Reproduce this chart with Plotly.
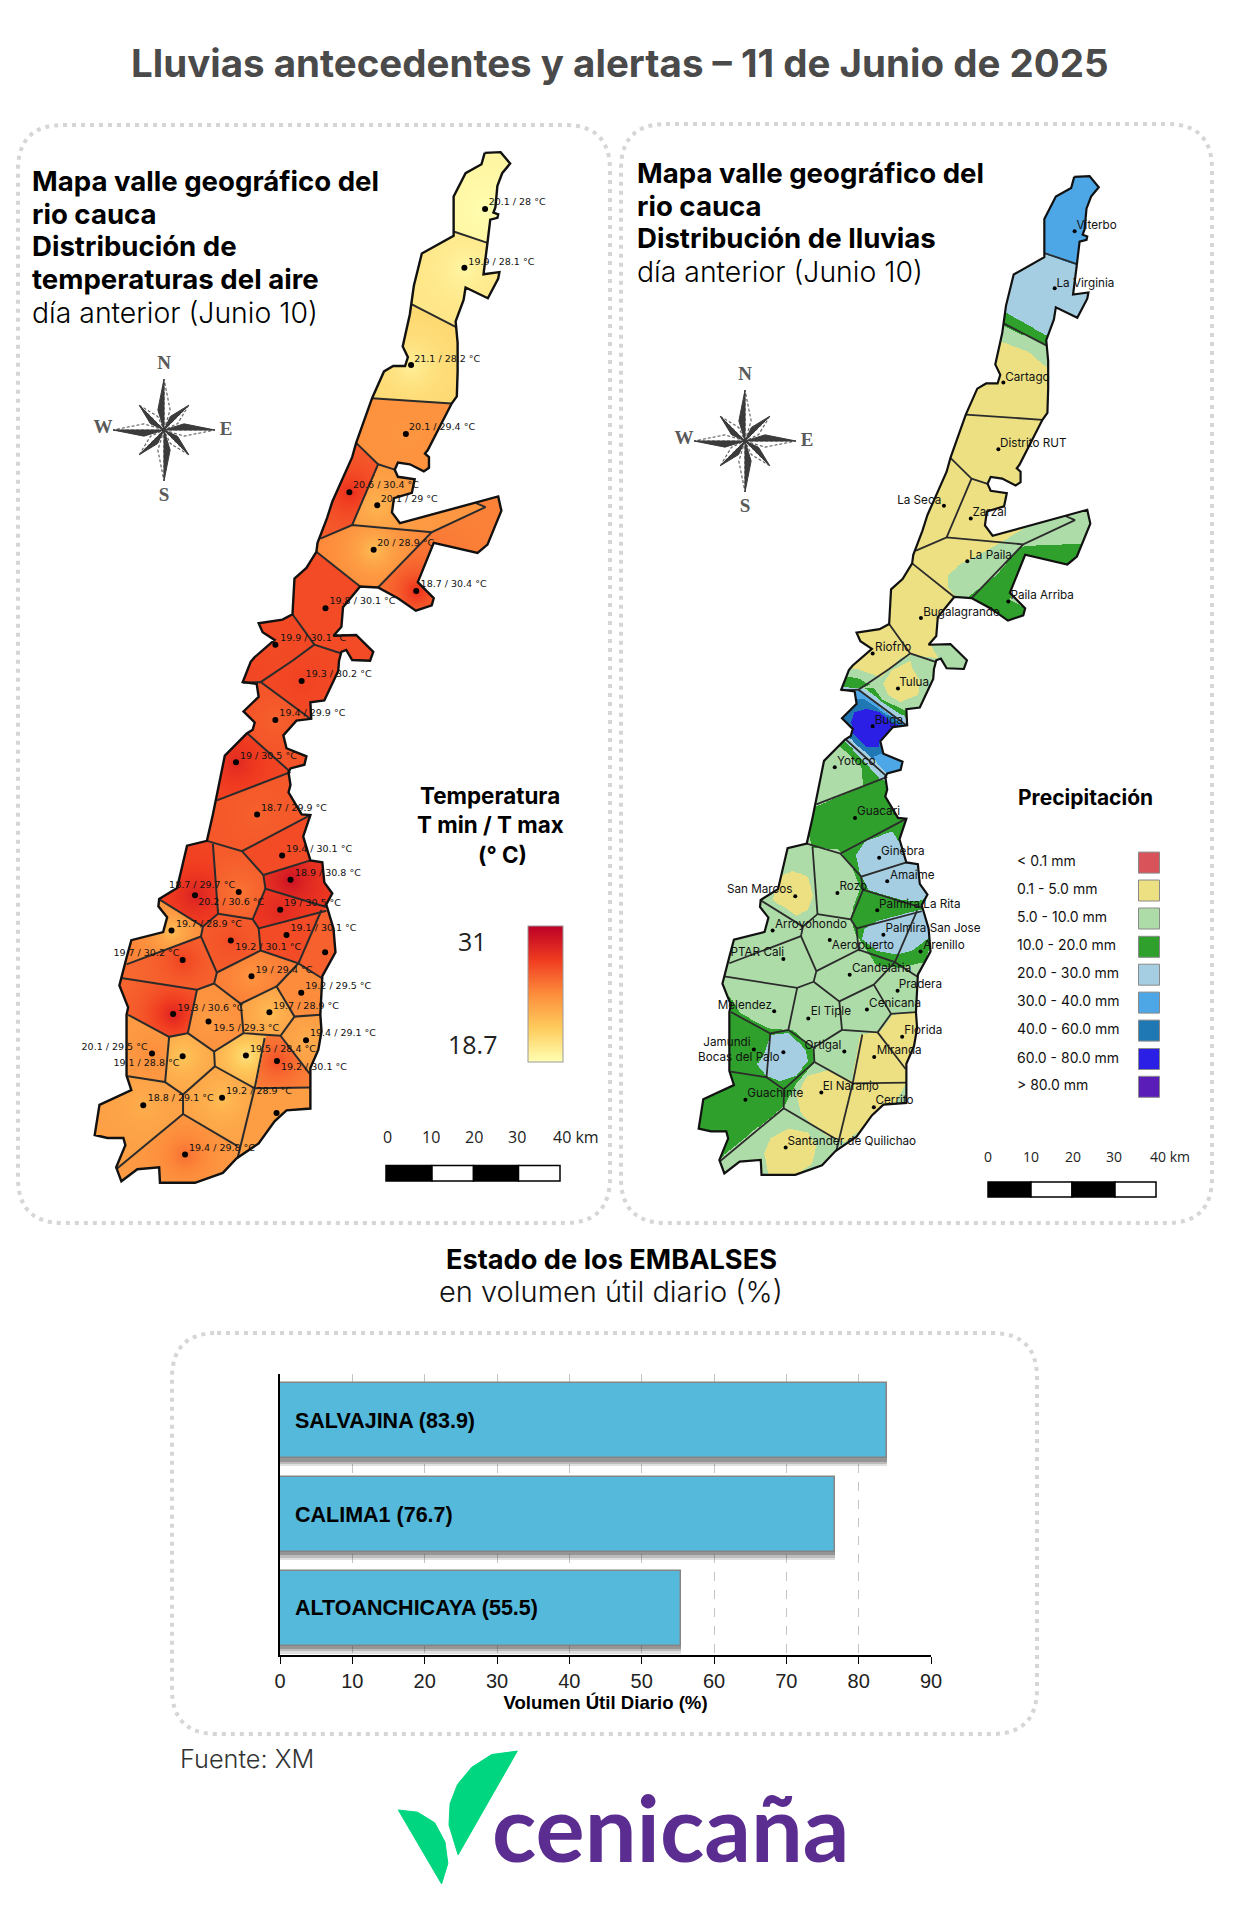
import math
from collections import deque
import numpy as np
import plotly.graph_objects as go

# ---------- digitising frames: crops of the picture -> map units ----------
MAP_SCALE_X, MAP_SCALE_Y = 0.963, 0.969
RIGHT_X0, RIGHT_Y0, LEFT_X0, LEFT_Y0 = 698.0, 177.0, 94.0, 153.0
def ln(p): return [(x/2.513, 100+y/2.8) for x, y in p]
def ls(p): return [(x/2.513, 660+y/2.72) for x, y in p]
def _r(px, py): return ((px-RIGHT_X0)/MAP_SCALE_X+LEFT_X0, (py-RIGHT_Y0)/MAP_SCALE_Y+LEFT_Y0)
def rn(p): return [_r(620+x/2.497, 100+y/2.8) for x, y in p]
def rs(p): return [_r(620+x/2.497, 660+y/2.72) for x, y in p]
def rz(p): return [_r(820+x/3, 590+y/3) for x, y in p]

# ---------- map geometry ----------
outline = ln([(1218,148),(1258,146),(1282,178),(1262,205),(1250,240),(1245,300),(1240,315),(1252,320),(1250,330),(1232,335),(1225,400),(1215,488),(1255,482),(1252,500),(1226,555),(1170,525),(1165,560),(1145,620),(1150,680),(1150,760),(1148,830),(1135,850),(1075,980),(1068,990),(1078,1000),(1078,1030),(1065,1040),(1030,1020),(1000,1015),(992,1035),(1000,1055),(1042,1062),(1035,1100),(990,1115),(985,1155),(1005,1185),(1252,1110),(1260,1150),(1225,1245),(1200,1268),(1090,1240),(1050,1350),(1090,1395),(1085,1415),(1045,1430),(1000,1395),(950,1365),(905,1362),(862,1420),(858,1475),(838,1500),(895,1498),(938,1545),(930,1570),(885,1568),(870,1540),(858,1545),(852,1570)]) \
 + ls([(850,30),(815,110),(780,115),(782,160),(745,165),(712,205),(720,240),(770,262),(765,285),(730,295),(725,305),(730,340),(725,360),(758,420),(780,422),(762,480),(780,545),(810,550),(815,605),(835,635),(820,665),(838,730),(843,795),(810,860),(805,965),(808,1010),(800,1060),(780,1110),(780,1220),(720,1225),(690,1255),(650,1315),(595,1355),(560,1395),(490,1422),(402,1422),(400,1380),(345,1385),(305,1418),(292,1380),(315,1320),(310,1300),(270,1300),(238,1292),(250,1210),(330,1170),(318,1130),(318,965),(322,945),(300,885),(318,810),(330,762),(410,740),(420,700),(398,670),(400,650),(445,620),(470,505),(520,492),(535,420),(565,260),(620,200),(635,190),(640,170),(612,140),(650,100),(645,65),(610,60),(630,5)]) \
 + ln([(640,1560),(690,1512),(660,1490),(650,1465),(710,1455),(735,1440),(740,1340),(770,1310),(795,1265),(798,1240),(822,1170),(835,1125),(885,1000),(895,960),(935,835),(965,760),(988,745),(1018,745),(1025,720),(1012,690),(1030,600),(1040,520),(1060,430),(1140,380),(1140,270),(1170,205),(1210,180)])

borders = [
 ln([(1140,368),(1225,400)]), ln([(1035,572),(1145,635)]), ln([(935,835),(1135,850)]),
 ln([(895,960),(950,1020),(885,1190)]), ln([(950,1020),(992,1035)]),
 ln([(805,1228),(885,1190),(1085,1210),(1220,1140),(1195,1128)]),
 ln([(1085,1210),(950,1365)]), ln([(795,1265),(905,1362)]),
 ln([(735,1440),(790,1525),(858,1550)]), ln([(790,1525),(735,1570)])+ls([(655,60)]),
 ls([(610,62),(655,60),(780,160)]), ls([(622,200),(725,300)]), ls([(545,382),(730,305)]),
 ls([(520,492),(608,520),(780,422)]), ls([(535,500),(548,690)]),
 ls([(608,520),(662,585),(780,545)]), ls([(662,585),(667,622),(820,672)]), ls([(667,622),(635,705)]),
 ls([(548,690),(635,705),(650,730),(820,682)]), ls([(398,650),(510,725),(548,690)]),
 ls([(318,828),(505,752)]), ls([(510,725),(505,752),(545,850),(538,880)]),
 ls([(650,730),(655,790),(545,850)]), ls([(655,790),(750,825),(808,865)]), ls([(808,680),(750,825)]),
 ls([(750,825),(695,888),(740,970),(805,965)]), ls([(695,888),(605,935),(538,880)]),
 ls([(605,935),(612,1015),(705,1022),(740,970)]), ls([(538,880),(495,897),(305,865)]),
 ls([(495,897),(472,1015),(425,1025),(322,965)]), ls([(425,1025),(415,1148),(322,1132)]),
 ls([(472,1015),(538,1065),(612,1015)]), ls([(538,1065),(540,1105),(460,1182),(415,1148)]),
 ls([(540,1105),(640,1165),(780,1163)]), ls([(640,1165),(665,1028)]), ls([(705,1022),(778,1125)]),
 ls([(640,1165),(597,1355)]), ls([(460,1182),(460,1235),(597,1322)]), ls([(460,1235),(292,1385)]),
]

# ---------- stations ----------
station_names = ["Viterbo","La Virginia","Cartago","Distrito RUT","La Seca","Zarzal","La Paila","Paila Arriba","Bugalagrande","Riofrio",
 "Tulua","Buga","Yotoco","Guacari","Ginebra","Amaime","San Marcos","Rozo","Palmira La Rita","Palmira San Jose","Arroyohondo","Aeropuerto","PTAR Cali","Arenillo","Candelaria","Pradera","Cenicana","Melendez","El Tiple","Florida","Jamundi","Bocas del Palo","Ortigal","Miranda","Guachinte","El Naranjo","Cerrito","Santander de Quilichao"]
tmin = ["20.1","19.9","21.1","20.1","20.6","20.1","20","18.7","19.8","19.9","19.3","19.4","19","18.7","19.4","18.9","20.2","18.7","19","19.1","19.7","19.2","19.7",None,"19","19.2","19.7","19.3","19.5","19.4","20.1","19.1","19.5","19.2","18.8","19.2",None,"19.4"]
tmax = [28,28.1,28.2,29.4,30.4,29,28.9,30.4,30.1,30.1,30.2,29.9,30.5,29.9,30.1,30.8,30.6,29.7,30.5,30.1,28.9,30.1,30.2,29.9,29.4,29.5,28.9,30.6,29.3,29.1,29.5,28.8,28.4,30.1,29.1,28.9,29.3,29.8]
trim = [28.15,28.4,28.6,29.45,29.9,29.4,29.6,29.6,30.1,30.15,30.1,30.05,30.1,30,30.1,30.2,30.1,30,30.2,30.1,29.7,29.9,29.8,29.9,29.7,29.5,29.4,29.8,29.5,29.4,29.3,29.3,29.3,29.5,29.3,29.3,29.3,29.3]
station_pts = ln([(1219,305),(1167,470),(1033,742),(1020,935),(878,1098),(948,1135),(939,1259),(1046,1375),(818,1423),(692,1525)]) + \
 ls([(758,57),(692,163),(593,278),(646,420),(709,532),(730,598),(490,640),(600,631),(704,679),(720,748),(431,736),(580,763),(459,816),(817,795),(632,860),(757,905),(677,958),(435,963),(524,983),(769,1034),(382,1070),(459,1078),(618,1076),(696,1091),(360,1211),(558,1191),(695,1232),(465,1345)])
temp_label_pts = ln([(1228,288),(1177,454),(1041,726),(1028,917),(887,1081),(957,1118),(948,1241),(1057,1357),(828,1405),(704,1507)]) + \
 ls([(768,40),(702,147),(603,262),(656,403),(719,515),(741,582),(498,660),(425,613),(714,662),(730,731),(442,719),(591,782),(285,798),(0,0),(642,844),(767,889),(686,942),(446,947),(536,1002),(779,1017),(205,1054),(285,1097),(628,1060),(706,1110),(371,1193),(568,1174),(0,0),(475,1329)])
name_label_pts = rn([(1140,354),(1090,515),(962,778),(949,963),(692,1122),(880,1157),(872,1277),(975,1390),(757,1436),(637,1535)]) + \
 rs([(697,62),(636,166),(542,278),(592,413),(652,523),(674,587),(267,627),(548,619),(647,666),(663,732),(387,721),(529,779),(276,797),(757,779),(579,841),(696,884),(622,935),(244,941),(476,959),(710,1009),(208,1043),(195,1084),(461,1049),(641,1064),(318,1180),(506,1161),(638,1201),(418,1310)])

# ---------- rain classes ----------
rain_classes = ["< 0.1 mm","0.1 - 5.0 mm","5.0 - 10.0 mm","10.0 - 20.0 mm","20.0 - 30.0 mm","30.0 - 40.0 mm","40.0 - 60.0 mm","60.0 - 80.0 mm","> 80.0 mm"]
rain_colors = ["#d9535a","#ece082","#aedca8","#30a02c","#a6cee3","#4da6e6","#1f78b4","#2b1fe6","#5b1db8"]
rain_base = 2
rain_zones = [
 (1, rn([(800,660),(960,680),(1020,705),(1075,755),(1110,900),(1040,1160),(1010,1200),(925,1255),(850,1300),(818,1330),(820,1365),(838,1395),(790,1500),(780,1530)])+rz([(355,205),(270,195),(240,205),(185,260),(150,250),(110,235),(60,240),(0,200)])+rn([(500,1400)])),
 (1, rz([(272,212),(278,235),(300,270),(295,315),(240,335),(205,315),(190,280),(215,240)])),
 (1, rs([(400,590),(430,572),(470,590),(482,640),(470,680),(440,695),(380,650)])),
 (1, rs([(650,1010),(680,965),(760,950),(760,1100),(712,1150),(690,1200),(640,1250),(560,1310),(510,1290),(450,1230),(440,1180),(470,1130),(520,1115),(580,1145),(600,1020)])),
 (1, rs([(360,1340),(375,1300),(420,1275),(470,1285),(490,1320),(480,1370),(440,1400),(370,1400)])),
 (3, rn([(900,580),(955,590),(1075,660),(1080,695),(950,628),(900,610)])),
 (3, rn([(1000,1250),(1060,1245),(1140,1243),(1200,1243),(1180,1330),(1005,1285),(975,1400),(1060,1450),(970,1490),(860,1400),(940,1330)])),
 (3, rz([(40,262),(80,258),(120,265),(150,285),(118,298),(40,290)])),
 (3, rz([(135,295),(160,295),(190,330),(260,362),(260,390),(225,365)])),
 (3, rs([(460,410),(660,320),(730,430),(790,640),(800,700),(760,820),(700,835),(640,830),(590,745),(575,700),(600,620),(580,560),(545,515),(480,510)])),
 (3, rs([(150,900),(275,915),(300,960),(370,1000),(430,1005),(485,1060),(487,1095),(440,1150),(415,1205),(400,1222),(245,1358),(150,1400)])),
 (3, rz([(20,470),(75,450),(200,575),(130,590),(125,530),(60,470)])),
 (4, rn([(900,430),(1060,432),(1140,462),(1300,470),(1300,620),(1200,700),(1068,660),(955,590),(900,570)])),
 (5, rn([(1000,150),(1300,150),(1300,470),(1140,462),(1060,432),(1000,432)])),
 (4, rs([(590,530),(615,490),(680,465),(700,500),(720,540),(790,590),(790,640),(740,655),(700,650),(620,625),(600,580)])),
 (4, rs([(610,730),(640,710),(710,690),(790,670),(790,740),(730,790),(690,800),(640,790),(605,760)])),
 (4, rs([(375,1020),(420,1015),(465,1060),(470,1090),(440,1130),(400,1145),(365,1130),(342,1100),(360,1070)])),
 (4, rz([(40,288),(115,296),(125,292),(265,388),(265,410),(235,395),(120,310),(40,305)])),
 (5, rz([(40,303),(120,303),(235,392),(265,408),(265,420),(180,362),(130,330),(40,328)])),
 (6, rz([(30,325),(130,325),(180,358),(265,415),(210,430),(185,470),(200,500),(270,525),(240,535),(190,525),(80,460),(30,400)])),
 (7, rz([(92,395),(105,365),(140,355),(180,365),(215,400),(265,410),(205,430),(180,450),(175,470),(140,470),(100,430)])),
 (5, rz([(160,500),(190,490),(265,515),(265,540),(210,560),(185,545)])),
 (4, rz([(70,448),(88,442),(212,558),(200,575),(180,565)])),
]

# ---------- other values ----------
temp_scale_labels = ["31","18.7"]
reservoirs = ["SALVAJINA","CALIMA1","ALTOANCHICAYA"]
reservoir_values = [83.9,76.7,55.5]
YLORRD = [[0,"#ffffb2"],[.25,"#fecc5c"],[.5,"#fd8d3c"],[.75,"#f03b20"],[1,"#bd0026"]]
big_leaf = [(645,1197),(600,1205),(565,1235),(540,1275),(527,1320),(525,1370),(541,1440)]
small_leaf = [(436,1335),(470,1340),(500,1365),(518,1410),(523,1460),(512,1508)]

TITLE_FONT = "Inter"
fig = go.Figure()

# ---------- rasters through the library's heatmap ----------
GX0, GY0, STEP = 90.0, 148.0, 1.0
NX, NY = 430, 1045
def rast(poly):
    m = np.zeros((NY, NX), bool)
    for i in range(len(poly)):
        x1, y1 = poly[i]; x2, y2 = poly[(i+1) % len(poly)]
        if y1 == y2: continue
        r0 = max(0, math.ceil((min(y1, y2)-GY0)/STEP)); r1 = min(NY, math.ceil((max(y1, y2)-GY0)/STEP))
        for r in range(r0, r1):
            yy = GY0+r*STEP
            xi = x1+(yy-y1)*(x2-x1)/(y2-y1)
            c = min(NX, max(0, math.ceil((xi-GX0)/STEP)))
            m[r, :c] ^= True
    return m
inside = rast(outline)
barrier = np.zeros((NY, NX), bool)
for line in borders:
    pts = list(line)
    def ext(a, b):
        d = math.hypot(a[0]-b[0], a[1]-b[1]) or 1
        return (a[0]+(a[0]-b[0])/d*5, a[1]+(a[1]-b[1])/d*5)
    pts = [ext(pts[0], pts[1])]+pts+[ext(pts[-1], pts[-2])]
    for a, b in zip(pts, pts[1:]):
        n = int(math.hypot(a[0]-b[0], a[1]-b[1])/0.4)+2
        for t in np.linspace(0, 1, n):
            c = int(round((a[0]+(b[0]-a[0])*t-GX0)/STEP)); r = int(round((a[1]+(b[1]-a[1])*t-GY0)/STEP))
            if 0 <= r < NY and 0 <= c < NX: barrier[r, c] = True
label = np.full((NY, NX), -1, int)
free = (inside & ~barrier).tolist()
lab = label.tolist(); nreg = 0
for r0 in range(NY):
    for c0 in range(NX):
        if free[r0][c0] and lab[r0][c0] < 0:
            q = deque([(r0, c0)]); lab[r0][c0] = nreg
            while q:
                r, c = q.popleft()
                for rr, cc in ((r+1, c), (r-1, c), (r, c+1), (r, c-1)):
                    if 0 <= rr < NY and 0 <= cc < NX and free[rr][cc] and lab[rr][cc] < 0:
                        lab[rr][cc] = nreg; q.append((rr, cc))
            nreg += 1
label = np.array(lab)
XX, YY = np.meshgrid(GX0+np.arange(NX)*STEP, GY0+np.arange(NY)*STEP)
sx = np.array([p[0] for p in station_pts]); sy = np.array([p[1] for p in station_pts])
reg_st = {}
for i, (x, y) in enumerate(station_pts):
    c, r = int(round((x-GX0)/STEP)), int(round((y-GY0)/STEP))
    w = label[max(r-4, 0):r+5, max(c-4, 0):c+5]; w = w[w >= 0]
    if w.size:
        reg_st.setdefault(int(np.bincount(w).argmax()), []).append(i)
owner = np.full((NY, NX), -1, int)
for reg in range(nreg):
    idx = np.nonzero(label == reg)
    cand = np.array(reg_st.get(reg, range(len(sx))))
    d = (XX[idx][:, None]-sx[cand])**2+(YY[idx][:, None]-sy[cand])**2
    owner[idx] = cand[d.argmin(axis=1)]
idx = np.nonzero(inside & (owner < 0))
d = (XX[idx][:, None]-sx)**2+(YY[idx][:, None]-sy)**2
owner[idx] = d.argmin(axis=1)

heat = np.full((NY, NX), np.nan, dtype=np.float32)
for i in range(len(sx)):
    m = owner == i
    dist = np.hypot(XX[m]-sx[i], YY[m]-sy[i])
    heat[m] = trim[i]+(tmax[i]-trim[i])*np.exp(-dist/24.0)
rain = np.full((NY, NX), float(rain_base), dtype=np.float32)
for cls, poly in rain_zones:
    rain[rast(poly)] = cls
rain[~inside] = np.nan

fig.add_trace(go.Heatmap(z=heat, x0=GX0, dx=STEP, y0=GY0, dy=STEP, xaxis="x", yaxis="y", zmin=28, zmax=31,
    colorscale=YLORRD, zsmooth=False, hoverinfo="skip",
    colorbar=dict(x=528/1248, xanchor="left", y=1-926/1920, yanchor="top", len=136, lenmode="pixels", thickness=35,
                  thicknessmode="pixels", xpad=0, ypad=0, ticks="", showticklabels=False, outlinecolor="#9a9a9a", outlinewidth=1)))
rscale = []
for i, c in enumerate(rain_colors):
    rscale += [[i/9, c], [(i+1)/9, c]]
fig.add_trace(go.Heatmap(z=rain, x0=GX0, dx=STEP, y0=GY0, dy=STEP, xaxis="x2", yaxis="y2", zmin=-.5, zmax=8.5,
    colorscale=rscale, zsmooth=False, showscale=False, hoverinfo="skip"))

# ---------- map lines, dots, labels ----------
def xy(poly, close=False):
    p = list(poly)+([poly[0]] if close else [])
    return [a[0] for a in p], [a[1] for a in p]
bx, by = [], []
for b in borders:
    a, c = xy(b); bx += a+[None]; by += c+[None]
ox, oy = xy(outline, True)
tl = [(p, f"{a} / {t:g} °C") for p, a, t in zip(temp_label_pts, tmin, tmax) if a is not None]
for ax_x, ax_y, lw_b, lw_o, ms in (("x", "y", 2.0, 2.4, 6), ("x2", "y2", 1.8, 2.2, 4)):
    fig.add_trace(go.Scatter(x=bx, y=by, mode="lines", line=dict(color="#2b2b2b", width=lw_b), xaxis=ax_x, yaxis=ax_y, hoverinfo="skip"))
    fig.add_trace(go.Scatter(x=ox, y=oy, mode="lines", line=dict(color="#111", width=lw_o), xaxis=ax_x, yaxis=ax_y, hoverinfo="skip"))
    fig.add_trace(go.Scatter(x=sx, y=sy, mode="markers", marker=dict(color="#000", size=ms), xaxis=ax_x, yaxis=ax_y, hoverinfo="skip"))
fig.add_trace(go.Scatter(x=[p[0][0] for p in tl], y=[p[0][1] for p in tl], text=[p[1] for p in tl], mode="text", textposition="middle right",
    textfont=dict(family="DejaVu Sans", size=9.5, color="#111"), xaxis="x", yaxis="y", hoverinfo="skip"))
fig.add_trace(go.Scatter(x=[p[0] for p in name_label_pts], y=[p[1] for p in name_label_pts], text=station_names, mode="text", textposition="middle right",
    textfont=dict(family="Inter", size=11.7, color="#111"), xaxis="x2", yaxis="y2", hoverinfo="skip"))

# ---------- compass roses ----------
def rose(cx, cy):
    dark_x, dark_y, lite_x, lite_y = [], [], [], []
    for k in range(8):
        a = math.radians(k*45)
        R = 51 if k % 2 == 0 else 35
        w, sp = (21, math.radians(17)) if k % 2 == 0 else (15, math.radians(20))
        tip = (cx+R*math.cos(a), cy+R*math.sin(a))
        b1 = (cx+w*math.cos(a-sp), cy+w*math.sin(a-sp))
        b2 = (cx+w*math.cos(a+sp), cy+w*math.sin(a+sp))
        dark_x += [cx, tip[0], b1[0], cx, None]; dark_y += [cy, tip[1], b1[1], cy, None]
        lite_x += [cx, tip[0], b2[0], cx, None]; lite_y += [cy, tip[1], b2[1], cy, None]
    fig.add_trace(go.Scatter(x=lite_x, y=lite_y, mode="lines", fill="toself", fillcolor="#fff", line=dict(color="#666", width=1.2, dash="3px,2px"), xaxis="x", yaxis="y", hoverinfo="skip"))
    fig.add_trace(go.Scatter(x=dark_x, y=dark_y, mode="lines", fill="toself", fillcolor="#3b3b3b", line=dict(color="#3b3b3b", width=1), xaxis="x", yaxis="y", hoverinfo="skip"))
    fig.add_trace(go.Scatter(x=[cx, cx, cx-61, cx+62], y=[cy-66, cy+66, cy-2, cy], text=["<b>N</b>", "<b>S</b>", "<b>W</b>", "<b>E</b>"], mode="text",
        textfont=dict(family="Liberation Serif", size=19, color="#5a5a5a"), xaxis="x", yaxis="y", hoverinfo="skip"))
rose(164, 430)
rose(745, 441)

# ---------- logo leaves ----------
def logo(p): return [(150+x/1.756, 1240+y/2.342) for x, y in p]
for leaf in (big_leaf, small_leaf):
    a, c = xy(logo(leaf), True)
    fig.add_trace(go.Scatter(x=a, y=c, mode="lines", fill="toself", fillcolor="#00d67f", line=dict(color="#00d67f", width=1), xaxis="x", yaxis="y", hoverinfo="skip"))

# ---------- rain legend ----------
leg_y = [862.6,890.5,918.5,946.8,974.7,1002.6,1030.6,1059,1086.8]
fig.add_trace(go.Scatter(x=[1149]*9, y=leg_y, mode="markers", marker=dict(symbol="square", size=21, color=rain_colors, line=dict(color="#8a8a8a", width=1)), xaxis="x", yaxis="y", hoverinfo="skip"))
fig.add_trace(go.Scatter(x=[1017]*9, y=leg_y, text=rain_classes, mode="text", textposition="middle right", textfont=dict(family="Inter", size=14, color="#111"), xaxis="x", yaxis="y", hoverinfo="skip"))

# ---------- reservoir bars ----------
for shift, alpha in ((0.085, .16), (0.06, .22), (0.035, .3)):
    fig.add_trace(go.Bar(x=reservoir_values, y=reservoirs, orientation="h", width=0.8, offset=-0.4+shift, marker=dict(color=f"rgba(60,60,60,{alpha})", line=dict(width=0)), xaxis="x3", yaxis="y3", hoverinfo="skip"))
fig.add_trace(go.Bar(x=reservoir_values, y=reservoirs, orientation="h", width=0.8, offset=-0.4, marker=dict(color="#54b9da", line=dict(color="#858585", width=1.5)), xaxis="x3", yaxis="y3", hoverinfo="skip"))

# ---------- layout helpers ----------
def rrect(x0, y0, x1, y1, r=45):
    return f"M{x0+r},{y0} L{x1-r},{y0} Q{x1},{y0} {x1},{y0+r} L{x1},{y1-r} Q{x1},{y1} {x1-r},{y1} L{x0+r},{y1} Q{x0},{y1} {x0},{y1-r} L{x0},{y0+r} Q{x0},{y0} {x0+r},{y0} Z"
shapes = []
for b in ((18, 125, 610, 1223), (621, 124, 1212, 1223), (172, 1333, 1037, 1734)):
    shapes.append(dict(type="path", path=rrect(*b), xref="x", yref="y", layer="below", line=dict(color="#d6d6d6", width=4, dash="4px,5px")))
def scalebar(xs, y0, y1):
    for i, (a, b) in enumerate(zip(xs, xs[1:])):
        shapes.append(dict(type="rect", x0=a, x1=b, y0=y0, y1=y1, xref="x", yref="y", fillcolor="#000" if i % 2 == 0 else "#fff", line=dict(color="#000", width=1.5)))
scalebar([386, 432, 473.5, 518.5, 560], 1165.5, 1181)
scalebar([988, 1031, 1072, 1115, 1156], 1182, 1197)

ann = []
def T(x, y, text, size, family=TITLE_FONT, color="#000", anchor="left", weight=None):
    f = dict(family=family, size=size, color=color)
    if weight: f["weight"] = weight
    ann.append(dict(x=x, y=y, xref="x", yref="y", text=text, showarrow=False, xanchor=anchor, yanchor="middle", font=f))
T(620, 63, "<b>Lluvias antecedentes y alertas – 11 de Junio de 2025</b>", 38.5, color="#4a4a4a", anchor="center")
left_title = ["<b>Mapa valle geográfico del</b>", "<b>rio cauca</b>", "<b>Distribución de</b>", "<b>temperaturas del aire</b>", "día anterior (Junio 10)"]
for t, y in zip(left_title, [181, 214, 246, 279, 312]):
    T(30, y, t, 27.6 if t.startswith("<b>") else 28.4, weight=300 if not t.startswith("<b>") else None)
right_title = ["<b>Mapa valle geográfico del</b>", "<b>rio cauca</b>", "<b>Distribución de lluvias</b>", "día anterior (Junio 10)"]
for t, y in zip(right_title, [173, 206, 238, 271]):
    T(635, y, t, 27.6 if t.startswith("<b>") else 28.4, weight=300 if not t.startswith("<b>") else None)
T(490, 795, "<b>Temperatura</b>", 22.4, anchor="center")
T(490, 824, "<b>T min / T max</b>", 22.4, anchor="center")
T(502, 854, "<b>(° C)</b>", 22.4, anchor="center")
T(472, 941, temp_scale_labels[0], 25, family="Open Sans", color="#222", anchor="center")
T(472, 1044, temp_scale_labels[1], 25, family="Open Sans", color="#222", anchor="center")
for t, x, a in (("0", 387, "center"), ("10", 430.5, "center"), ("20", 473.5, "center"), ("30", 517, "center"), ("40 km", 551, "left")):
    T(x, 1137, t, 16, family="Open Sans", color="#222", anchor=a)
for t, x, a in (("0", 988, "center"), ("10", 1031, "center"), ("20", 1072.5, "center"), ("30", 1114, "center"), ("40 km", 1148, "left")):
    T(x, 1156, t, 14, family="Open Sans", color="#222", anchor=a)
T(1085, 797, "<b>Precipitación</b>", 21, anchor="center")
T(611, 1259, "<b>Estado de los EMBALSES</b>", 27.2, anchor="center")
T(611, 1291, "en volumen útil diario (%)", 29, anchor="center", color="#111", weight=300)
T(178, 1758, "Fuente: XM", 25.3, color="#333", weight=300)
T(490, 1826, "<b>cenicaña</b>", 92, family="Lato", color="#5c2d91")
for name, v in zip(reservoirs, reservoir_values):
    ann.append(dict(x=0, y=name, xref="x3", yref="y3", xshift=13, text=f"<b>{name} ({v})</b>", showarrow=False, xanchor="left", yanchor="middle",
                    font=dict(family="Liberation Sans", size=21.5, color="#000")))

hidden = dict(visible=False, fixedrange=True)
rx = [(0-RIGHT_X0)/MAP_SCALE_X+LEFT_X0, (1248-RIGHT_X0)/MAP_SCALE_X+LEFT_X0]
ry = [(1920-RIGHT_Y0)/MAP_SCALE_Y+LEFT_Y0, (0-RIGHT_Y0)/MAP_SCALE_Y+LEFT_Y0]
fig.update_layout(
    width=1248, height=1920, margin=dict(l=0, r=0, t=0, b=0, autoexpand=False), paper_bgcolor="#fff", plot_bgcolor="rgba(0,0,0,0)",
    showlegend=False, barmode="overlay", shapes=shapes, annotations=ann, bargap=0,
    xaxis=dict(hidden, range=[0, 1248], domain=[0, 1]), yaxis=dict(hidden, range=[1920, 0], domain=[0, 1]),
    xaxis2=dict(hidden, range=rx, domain=[0, 1], anchor="y2"), yaxis2=dict(hidden, range=ry, domain=[0, 1], anchor="x2"),
    xaxis3=dict(range=[0, 90], dtick=10, domain=[280/1248, 931/1248], anchor="y3", showline=True, linecolor="#000", linewidth=2,
                ticks="outside", ticklen=7, tickcolor="#000", showgrid=True, gridcolor="#c4c4c4", griddash="dash", zeroline=False, fixedrange=True,
                tickfont=dict(family="Liberation Sans", size=20, color="#222"),
                title=dict(text="<b>Volumen Útil Diario (%)</b>", standoff=3, font=dict(family="Liberation Sans", size=18.6, color="#000"))),
    yaxis3=dict(type="category", categoryorder="array", categoryarray=reservoirs, range=[2.5, -0.5], domain=[1-1655/1920, 1-1374/1920], anchor="x3",
                showline=True, linecolor="#000", linewidth=2, showticklabels=False, ticks="", showgrid=False, fixedrange=True),
)
fig.write_html("out.html", post_script="document.body.style.margin='0';", config=dict(displayModeBar=False))
